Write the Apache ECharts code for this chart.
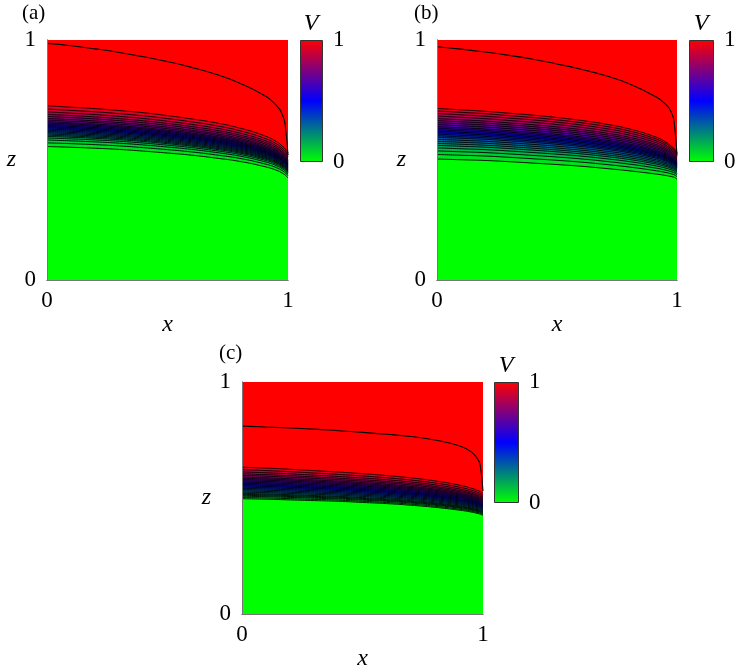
<!DOCTYPE html>
<html>
<head>
    <meta charset="utf-8">
    <title>V contours</title>
    <script src="https://cdn.jsdelivr.net/npm/echarts@6/dist/echarts.min.js"></script>
    <style>
        html, body { margin: 0; padding: 0; background: #fff; }
    </style>
</head>
<body>
<div id="main" style="width: 741px;height:672px;"></div>
<script type="text/javascript">
    // x sample points shared by every curve
    var xs = [0, 0.1, 0.2, 0.3, 0.4, 0.5, 0.6, 0.7, 0.8, 0.9, 0.95, 0.98, 0.99, 1];

    // (a) top contour, upper and lower edge of the steep band
    var topA     = [0.986, 0.976, 0.963, 0.948, 0.930, 0.910, 0.886, 0.857, 0.820, 0.770, 0.730, 0.680, 0.630, 0.520];
    var bandHiA  = [0.726, 0.720, 0.714, 0.706, 0.697, 0.685, 0.671, 0.655, 0.633, 0.602, 0.578, 0.555, 0.545, 0.530];
    var bandLoA  = [0.556, 0.553, 0.549, 0.544, 0.537, 0.529, 0.520, 0.508, 0.494, 0.473, 0.458, 0.443, 0.436, 0.425];
    // where each contour sits inside the band (0 = upper edge, 1 = lower edge)
    var fracA    = [0, 0.08, 0.15, 0.21, 0.26, 0.31, 0.35, 0.39, 0.42, 0.45, 0.48, 0.51, 0.54, 0.57, 0.60, 0.63, 0.66, 0.69, 0.72, 0.75, 0.79, 0.84, 0.91, 1.0];

    // (b)
    var topB     = [0.972, 0.962, 0.950, 0.936, 0.920, 0.900, 0.878, 0.852, 0.818, 0.770, 0.735, 0.690, 0.640, 0.520];
    var bandHiB  = [0.715, 0.709, 0.703, 0.695, 0.687, 0.677, 0.665, 0.650, 0.630, 0.600, 0.577, 0.555, 0.545, 0.530];
    var bandLoB  = [0.504, 0.501, 0.498, 0.493, 0.487, 0.481, 0.474, 0.465, 0.455, 0.443, 0.436, 0.430, 0.427, 0.420];
    var fracB    = [0, 0.05, 0.10, 0.15, 0.20, 0.24, 0.28, 0.32, 0.36, 0.39, 0.42, 0.45, 0.48, 0.51, 0.54, 0.57, 0.61, 0.65, 0.69, 0.73, 0.78, 0.84, 0.91, 1.0];

    // (c)
    var topC     = [0.810, 0.806, 0.802, 0.797, 0.790, 0.783, 0.775, 0.765, 0.750, 0.725, 0.700, 0.665, 0.630, 0.530];
    var bandHiC  = [0.633, 0.629, 0.624, 0.618, 0.612, 0.605, 0.597, 0.587, 0.574, 0.556, 0.543, 0.532, 0.527, 0.520];
    var bandLoC  = [0.497, 0.495, 0.492, 0.489, 0.486, 0.481, 0.476, 0.469, 0.460, 0.448, 0.440, 0.433, 0.430, 0.425];
    var fracC    = [0, 0.08, 0.15, 0.21, 0.26, 0.31, 0.35, 0.39, 0.43, 0.47, 0.51, 0.55, 0.59, 0.63, 0.67, 0.71, 0.75, 0.79, 0.83, 0.86, 0.89, 0.92, 0.96, 1.0];

    // V value of each band contour, top to bottom
    var levels = [0.96, 0.92, 0.88, 0.84, 0.80, 0.76, 0.72, 0.68, 0.64, 0.60, 0.56, 0.52,
                  0.48, 0.44, 0.40, 0.36, 0.32, 0.28, 0.24, 0.20, 0.16, 0.12, 0.08, 0.04];

    var barValue = [1];

    var FONT = 'Liberation Serif';
    var FRAME = '#777';

    // green (0) -> blue (0.5) -> red (1)
    function vColor(v) {
        var r, g, b, t;
        if (v < 0.5) {
            t = v / 0.5;
            r = 0; g = Math.round(255 * (1 - t)); b = Math.round(255 * t);
        } else {
            t = (v - 0.5) / 0.5;
            r = Math.round(255 * t); g = 0; b = Math.round(255 * (1 - t));
        }
        return 'rgb(' + r + ',' + g + ',' + b + ')';
    }

    var panels = [
        {label: '(a)', top: topA, hi: bandHiA, lo: bandLoA, frac: fracA,
         plot: {left: 47, top: 40, width: 241, height: 240},
         bar: {left: 300, top: 40, width: 23, height: 122},
         title: {left: 22, top: 3}},
        {label: '(b)', top: topB, hi: bandHiB, lo: bandLoB, frac: fracB,
         plot: {left: 437, top: 40, width: 240, height: 240},
         bar: {left: 689, top: 40, width: 25, height: 122},
         title: {left: 414, top: 3}},
        {label: '(c)', top: topC, hi: bandHiC, lo: bandLoC, frac: fracC,
         plot: {left: 242, top: 382, width: 241, height: 239},
         bar: {left: 494, top: 382, width: 25, height: 121},
         title: {left: 219, top: 343}}
    ];

    var grid = [], xAxis = [], yAxis = [], series = [], title = [];
    var hidden = {show: false};

    panels.forEach(function (p) {
        // ---- contour plot ----
        var gi = grid.length;
        grid.push({left: p.plot.left, top: p.plot.top, width: p.plot.width, height: p.plot.height,
                   show: true, backgroundColor: '#ff0000', borderWidth: 0});
        var xi = xAxis.length;
        xAxis.push({
            gridIndex: gi, type: 'value', min: 0, max: 1, interval: 1, position: 'bottom', z: 10,
            name: 'x', nameLocation: 'middle', nameGap: 26,
            nameTextStyle: {fontFamily: FONT, fontStyle: 'italic', fontSize: 24, color: '#000'},
            axisLine: {lineStyle: {color: FRAME, width: 1}},
            axisTick: hidden, splitLine: hidden,
            axisLabel: {margin: 9, fontFamily: FONT, fontSize: 23, color: '#000'}
        });
        xAxis.push({
            gridIndex: gi, type: 'value', min: 0, max: 1, position: 'top', z: 10,
            axisLine: {lineStyle: {color: FRAME, width: 1}},
            axisTick: hidden, splitLine: hidden, axisLabel: hidden
        });
        var yi = yAxis.length;
        yAxis.push({
            gridIndex: gi, type: 'value', min: 0, max: 1, interval: 1, position: 'left', z: 10,
            name: 'z', nameLocation: 'middle', nameGap: 31, nameRotate: 0,
            nameTextStyle: {fontFamily: FONT, fontStyle: 'italic', fontSize: 24, color: '#000'},
            axisLine: {lineStyle: {color: FRAME, width: 1}},
            axisTick: hidden, splitLine: hidden,
            axisLabel: {margin: 11, fontFamily: FONT, fontSize: 23, color: '#000'}
        });
        yAxis.push({
            gridIndex: gi, type: 'value', min: 0, max: 1, position: 'right', z: 10,
            axisLine: {lineStyle: {color: FRAME, width: 1}},
            axisTick: hidden, splitLine: hidden, axisLabel: hidden
        });

        // band contours, top one first so each lower one paints over the area below it
        p.frac.forEach(function (f, i) {
            var data = xs.map(function (x, k) {
                return [x, p.hi[k] + f * (p.lo[k] - p.hi[k])];
            });
            var fill = i < levels.length - 1 ? vColor((levels[i] + levels[i + 1]) / 2) : '#00ff00';
            series.push({
                type: 'line', xAxisIndex: xi, yAxisIndex: yi, data: data,
                showSymbol: false, smooth: 0.5, silent: true,
                lineStyle: {color: '#000', width: 0.9},
                areaStyle: {color: fill, opacity: 1, origin: 'start'}
            });
        });
        // single contour high in the red region
        series.push({
            type: 'line', xAxisIndex: xi, yAxisIndex: yi,
            data: xs.map(function (x, k) { return [x, p.top[k]]; }),
            showSymbol: false, smooth: 0.5, silent: true,
            lineStyle: {color: '#000', width: 1.1}
        });

        // ---- colour bar ----
        var bgi = grid.length;
        grid.push({left: p.bar.left, top: p.bar.top, width: p.bar.width, height: p.bar.height});
        var bxi = xAxis.length;
        xAxis.push({gridIndex: bgi, type: 'category', data: ['V'], show: false});
        var byi = yAxis.length;
        yAxis.push({
            gridIndex: bgi, type: 'value', min: 0, max: 1, interval: 1, position: 'right',
            name: 'V', nameLocation: 'end', nameGap: 4,
            nameTextStyle: {fontFamily: FONT, fontStyle: 'italic', fontSize: 24, color: '#000',
                            padding: [0, p.bar.width + 1, 0, 0]},
            axisLine: hidden, axisTick: hidden, splitLine: hidden,
            axisLabel: {margin: 10, fontFamily: FONT, fontSize: 23, color: '#000'}
        });
        series.push({
            type: 'bar', xAxisIndex: bxi, yAxisIndex: byi, data: barValue, barWidth: '100%', silent: true,
            itemStyle: {
                borderColor: '#333', borderWidth: 1,
                color: new echarts.graphic.LinearGradient(0, 0, 0, 1, [
                    {offset: 0, color: vColor(1)},
                    {offset: 0.5, color: vColor(0.5)},
                    {offset: 1, color: vColor(0)}
                ])
            }
        });

        title.push({
            text: p.label, left: p.title.left, top: p.title.top, padding: 0,
            textStyle: {fontFamily: FONT, fontWeight: 'normal', fontSize: 21, color: '#000'}
        });
    });

    var myChart = echarts.init(document.getElementById('main'));
    myChart.setOption({
        animation: false,
        backgroundColor: '#fff',
        title: title,
        grid: grid,
        xAxis: xAxis,
        yAxis: yAxis,
        series: series
    });
</script>
</body>
</html>
